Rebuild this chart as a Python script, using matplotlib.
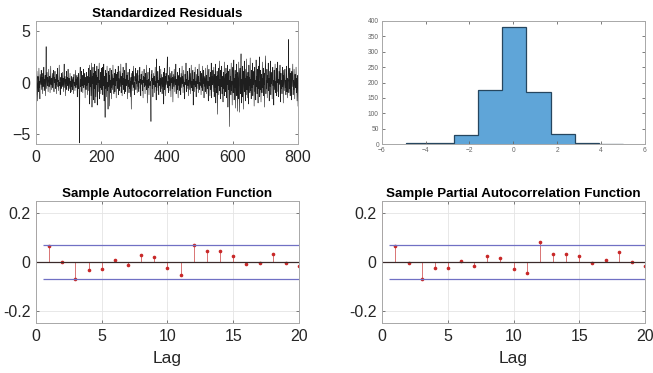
import numpy as np
import matplotlib
matplotlib.use("Agg")
import matplotlib.pyplot as plt

plt.rcParams['font.family'] = ['Liberation Sans', 'DejaVu Sans']

# ---- data: standardized residuals (read/estimated from the picture) ----
resid = [
 0.4, -1.2, 1.1, -0.3, -1.8, 0.6, 0.2, -0.9, 1.4, -0.5, 0.1, -1.6, 0.8, 0.3, -0.2, 1.2, -0.7, 0.0, 0.5, -1.1,
 0.9, -0.4, 0.2, 1.5, -0.8, 0.3, -0.1, 0.7, -1.3, 0.4, 3.5, -0.6, 0.1, 1.0, -0.3, 0.5, -0.9, 0.2, 1.3, -0.4,
 0.0, 0.6, -1.0, 0.3, 1.6, -0.2, 0.4, -0.7, 0.1, 0.9, -0.5, 0.2, 1.2, -0.3, -0.9, 0.5, 0.0, 1.1, -0.6, 0.3,
 -0.2, 0.8, -1.1, 0.4, 0.1, 1.4, -0.4, 0.2, -0.8, 0.6, 1.7, -0.3, 0.0, -1.2, 0.5, 0.3, -0.6, 0.9, 0.1, -0.4,
 1.0, -0.2, 0.4, -0.9, 0.2, 1.8, -0.5, 0.1, 0.6, -1.3, 0.3, -0.1, 1.1, -0.7, 0.2, 0.5, -0.3, 1.3, -0.8, 0.0,
 0.4, -0.6, 0.2, 0.9, -1.0, 0.1, -0.4, 0.6, -0.9, 0.3, -0.7, -0.2, 0.5, -1.1, 0.2, 0.8, -0.3, 0.0, -0.8, 0.4,
 1.2, -0.5, 0.3, -0.2, 0.7, -1.4, 0.1, 0.5, -0.6, 0.9, 0.2, -1.2, -5.9, 0.6, 1.5, -0.4, 0.3, -0.9, 1.1, 0.0,
 -0.3, 0.7, -1.0, 0.4, 1.3, -0.5, 0.2, -0.2, 0.9, -1.5, 0.5, 0.1, -0.7, 1.0, -0.3, 0.4, -1.2, 0.6, 0.0, 1.4,
 -0.8, 0.3, 1.7, -2.1, 0.5, -0.4, 1.2, -1.3, 0.2, 1.9, -2.4, 0.6, -0.1, 1.5, -1.7, 0.4, 0.9, -0.6, 1.8, -2.0,
 0.3, 1.1, -1.4, 0.7, -0.2, 1.6, -2.2, 0.5, 0.0, 1.3, -0.9, 0.4, 1.9, -1.6, 0.2, -0.5, 1.0, -1.1, 0.6, 1.4,
 -0.7, 0.2, 1.5, -1.2, 0.4, -0.3, 1.8, -1.8, 0.6, 0.1, -3.4, 1.2, -0.6, 0.9, -1.4, 0.3, 1.6, -0.8, 0.0, -2.6,
 1.1, -0.4, 0.7, -2.3, 0.5, 1.4, -1.0, 0.2, -0.5, 1.2, -1.6, 0.8, 0.1, -0.7, 1.7, -0.2, 0.4, -1.1, 0.9, 0.3,
 -0.9, 1.3, -0.3, 0.5, -1.5, 0.8, 0.2, 1.0, -0.6, -0.1, 1.6, -1.2, 0.4, 0.0, -0.8, 1.1, 0.3, -0.4, 1.8, -1.0,
 0.2, 0.6, -1.3, 0.9, -0.2, 1.5, -0.7, 0.1, 0.4, -1.1, 1.2, -0.5, 0.3, -0.9, 1.9, 0.0, -0.3, 0.7, -1.6, 0.5,
 1.0, -0.4, 0.2, -1.0, 0.8, 1.3, -0.6, 0.1, -1.4, 0.5, -2.6, 0.9, 0.3, -0.2, 1.1, -0.8, 0.4, 1.6, -0.5, 0.0,
 -1.2, 0.6, 0.2, 1.4, -0.7, 0.3, -0.1, 0.9, -1.0, 0.5, 1.2, -0.4, 0.1, -0.9, 0.7, 0.0, 1.5, -0.6, 0.3, -1.3,
 0.8, -0.2, 0.4, 1.1, -0.8, 0.2, -1.5, 0.6, 0.0, 1.3, -0.4, 0.5, -1.1, 0.9, 0.1, -0.3, 1.7, -0.7, 0.2, -2.0,
 0.5, 1.0, -0.5, 0.3, -1.2, 0.7, 1.4, -0.3, 0.1, -0.9, -3.8, 0.8, 0.2, 1.2, -0.6, 0.4, -1.4, 0.0, 0.9, -0.2,
 0.6, -1.0, 0.3, 1.5, -0.4, 0.1, -1.7, 2.3, -0.8, 0.5, 0.0, 1.1, -0.5, 0.2, -1.2, 0.7, 1.6, -0.3, 0.4, -0.9,
 1.3, -0.6, 0.2, 0.8, -1.1, 0.0, 0.5, -0.4, 1.0, -2.1, 0.3, 1.4, -0.7, 0.1, 0.6, -1.3, 0.9, -0.2, 0.4, 1.2,
 2.5, -0.5, 0.1, -1.0, 0.7, 0.3, -0.3, 1.5, -0.8, 0.2, 0.9, -1.4, 0.4, 0.0, 1.1, -0.6, 0.5, -1.9, 0.8, 0.2,
 -0.4, 1.3, 0.1, -0.9, 0.6, -0.2, 1.8, -1.1, 0.3, 0.0, -0.7, 1.0, 0.4, -1.5, 0.2, 0.7, -0.3, 1.4, -0.8, 0.5,
 0.1, -1.2, 0.9, 0.3, -0.5, 1.6, -0.1, 0.6, -1.0, 0.2, 1.2, -0.4, 0.0, -1.6, 0.8, 0.4, -0.2, 1.9, -0.9, 0.3,
 -0.6, 0.7, 1.1, -0.3, 0.2, -1.3, 0.5, 1.4, -0.7, 0.0, 0.9, -1.1, 0.4, 1.7, -0.5, 0.1, -0.8, 0.6, 1.2, -2.2,
 0.3, -0.2, 1.0, -0.9, 0.5, 1.5, -0.4, 0.1, -1.4, 0.8, 0.2, -0.6, 1.3, -0.1, 0.6, -1.0, 0.4, 1.8, -0.7, 0.0,
 -0.3, 1.1, 0.5, -1.2, 0.2, 0.9, -0.5, 1.6, -0.8, 0.3, -0.1, 1.2, -1.5, 0.6, 0.0, -0.4, 1.4, -0.9, 0.2, 0.7,
 -1.1, 0.4, 1.7, -0.6, 0.1, -1.8, 0.8, 1.3, -0.3, 0.5, -1.3, 0.2, 1.0, -0.7, 1.9, -1.5, 0.3, 0.6, -0.2, 1.2,
 -0.9, 0.4, 1.5, -1.4, 0.0, 0.8, -0.5, 1.8, -2.0, 0.6, 0.2, -1.0, 1.1, -3.1, 0.7, -0.3, 1.4, -1.2, 0.5, 2.1,
 -0.8, 0.3, -1.6, 1.2, 0.1, -0.4, 1.6, -1.1, 0.6, 0.0, -1.9, 1.0, 0.4, -0.6, 2.0, -1.3, 0.2, 0.8, -0.9, 1.4,
 0.3, -1.5, 0.9, -0.2, 1.7, -2.4, 0.5, 1.1, -0.7, 0.2, -4.3, 1.3, -0.4, 0.6, -1.2, 1.9, -0.8, 0.1, -2.2, 0.7,
 1.5, -1.0, 0.3, 2.2, -1.7, 0.4, -0.5, 1.2, -2.5, 0.8, 0.0, 1.8, -1.3, 0.6, -2.8, 1.0, 0.2, -1.6, 2.0, -0.4,
 -2.9, 0.9, 1.4, -1.1, 0.5, 2.8, -2.0, 0.3, -0.6, 1.6, -1.4, 0.7, -2.6, 1.1, 0.0, 2.1, -0.9, 0.4, -1.8, 1.3,
 0.2, -1.2, 2.3, -0.7, 0.6, -1.5, 1.0, 0.1, -2.1, 1.7, -0.3, 0.5, -1.0, 2.4, -0.8, 0.3, -1.6, 1.2, 0.0, -0.5,
 1.9, -1.3, 0.4, -0.2, 1.1, -2.3, 0.7, 1.5, -0.9, 0.2, -1.7, 2.2, -0.4, 0.6, -1.1, 1.3, 0.0, -2.0, 1.6, -0.6,
 0.5, 2.5, -1.4, 0.1, -0.7, 1.2, -1.9, 0.8, 0.3, -1.0, 2.0, -0.5, 0.4, -1.3, 1.4, -0.2, 0.9, -2.4, 0.6, 1.8,
 2.6, -1.1, 0.2, -0.6, 1.3, -1.5, 0.7, 0.0, 1.9, -0.8, 0.4, -1.8, 1.1, 0.3, -0.4, 2.1, -1.2, 0.5, -0.1, 1.0,
 -1.6, 0.6, 1.5, -0.3, 0.2, -2.2, 1.2, -0.7, 0.4, 1.8, -1.0, 0.1, -0.5, 1.4, -1.3, 0.8, 0.0, 2.0, -0.9, 0.3,
 -1.4, 1.1, 0.5, -0.2, 1.7, -1.9, 0.3, 0.9, -0.6, 0.2, -1.1, 1.5, -0.4, 0.7, -2.0, 1.2, 0.1, -0.8, 0.6, 1.3,
 -0.5, 0.2, -1.2, 0.8, 1.6, -0.9, 0.4, -1.5, 0.0, 1.0, 4.2, -1.0, 0.3, -0.6, 1.4, -1.3, 0.5, 0.9, -0.2, -1.7,
 1.1, -0.4, 0.6, 1.8, -1.2, 0.2, -0.7, 1.3, 0.0, -1.6, 0.8, 0.3, -0.5, 1.5, -1.0, 0.4, -1.8, 0.7, 0.1, -2.3,
]

# histogram of residuals
hist_edges = [-4.9, -3.8, -2.7, -1.6, -0.5, 0.6, 1.7, 2.8, 3.9, 5.0]
hist_counts = [2, 3, 30, 175, 382, 170, 32, 3, 1]

# sample ACF / PACF (lags 0..20)
lags = list(range(0, 21))
acf_vals = [1.0, 0.064, 0.001, -0.069, -0.034, -0.029, 0.007, -0.011, 0.029, 0.019, -0.026,
            -0.052, 0.069, 0.044, 0.044, 0.022, -0.010, -0.003, 0.034, -0.005, -0.015]
pacf_vals = [1.0, 0.064, -0.004, -0.069, -0.024, -0.024, 0.005, -0.016, 0.026, 0.014, -0.030,
             -0.046, 0.080, 0.034, 0.031, 0.024, -0.004, 0.008, 0.042, 0.001, -0.016]
conf_bound = 0.07

SPINE = '#a8a8a8'
TXT = '#262626'

fig = plt.figure(figsize=(6.53, 3.73), dpi=100)

def style(ax, fs=11):
    for s in ax.spines.values():
        s.set_color(SPINE)
        s.set_linewidth(0.7)
    ax.tick_params(direction='in', top=True, right=True, length=2.5, width=0.6,
                   color='#666666', labelsize=fs, labelcolor=TXT, pad=4)

# --- top-left: residual time series
ax1 = fig.add_axes([0.0551, 0.6139, 0.4013, 0.3298])
x = np.arange(1, len(resid) + 1)
ax1.plot(x, resid, color='#1e1e1e', lw=0.42)
ax1.set_xlim(0, 800)
ax1.set_ylim(-6, 6)
ax1.set_xticks([0, 200, 400, 600, 800])
ax1.set_yticks([-5, 0, 5])
style(ax1, 11.5)
ax1.set_title('Standardized Residuals', fontsize=9.6, fontweight='bold', pad=3, color='black')

# --- top-right: histogram
ax2 = fig.add_axes([0.5845, 0.6139, 0.4032, 0.3298])
ax2.stairs(hist_counts, hist_edges, fill=True, facecolor='#5fa5d8', edgecolor='none')
ax2.stairs(hist_counts, hist_edges, fill=False, color='#26465f', lw=0.9)
ax2.set_xlim(-6, 6)
ax2.set_ylim(0, 400)
ax2.set_xticks(np.arange(-6, 7, 2))
ax2.set_yticks(np.arange(0, 401, 50))
style(ax2, 4.8)
ax2.tick_params(labelcolor='#666666', pad=2, length=2)

# --- bottom: ACF and PACF
def corr_plot(rect, vals, title):
    ax = fig.add_axes(rect)
    ax.grid(True, color='#e4e4e4', lw=0.6)
    ax.set_axisbelow(True)
    ax.vlines(lags, 0, vals, colors='#d05050', lw=0.55)
    ax.plot(lags, vals, linestyle='none', marker='o', ms=1.6, color='#c82828')
    ax.axhline(0, color='#3a2a2a', lw=0.9)
    ax.hlines([conf_bound, -conf_bound], 0.5, 20, colors='#7070c4', lw=0.9)
    ax.set_xlim(0, 20)
    ax.set_ylim(-0.25, 0.25)
    ax.set_xticks([0, 5, 10, 15, 20])
    ax.set_yticks([-0.2, 0, 0.2])
    ax.set_yticklabels(['-0.2', '0', '0.2'])
    style(ax, 11.5)
    ax.set_title(title, fontsize=9.6, fontweight='bold', pad=3, color='black')
    ax.set_xlabel('Lag', fontsize=12.5, color=TXT, labelpad=5)
    return ax

corr_plot([0.0551, 0.1340, 0.4028, 0.3279], acf_vals, 'Sample Autocorrelation Function')
corr_plot([0.5854, 0.1340, 0.4023, 0.3279], pacf_vals, 'Sample Partial Autocorrelation Function')

fig.savefig('out.png', dpi=100)
